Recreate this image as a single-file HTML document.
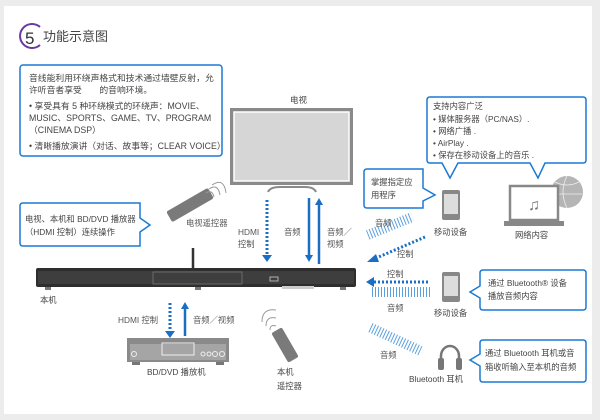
<!DOCTYPE html>
<html><head><meta charset="utf-8"><style>
html,body{margin:0;padding:0;background:#ececec;}
svg{display:block;font-family:"Liberation Sans","Noto Sans CJK SC",sans-serif;}
</style></head><body>
<svg width="600" height="420" viewBox="0 0 600 420" xmlns="http://www.w3.org/2000/svg">
<defs>
<pattern id="wv" width="3" height="10" patternUnits="userSpaceOnUse"><rect width="1" height="10" fill="#5aa0e0"/></pattern>
</defs>
<rect x="0" y="0" width="600" height="420" fill="#ececec"/>
<rect x="4" y="6" width="588" height="408" fill="#ffffff"/>

<!-- title -->
<path d="M40,27 A12,12 0 1 0 40,45" fill="none" stroke="#6a3aa0" stroke-width="2"/>
<text x="25" y="44" font-size="17" fill="#333">5</text>
<text x="43" y="41" font-size="13" fill="#444">功能示意图</text>

<!-- box1 -->
<rect x="20" y="65" width="202" height="91" rx="3" fill="#fff" stroke="#1a7ad4" stroke-width="1.5"/>
<g font-size="8.8" fill="#444">
<text x="29" y="81">音线能利用环绕声格式和技术通过墙壁反射，允</text>
<text x="29" y="93">许听音者享受　　的音响环境。</text>
<text x="29" y="109">• 享受具有 5 种环绕模式的环绕声：MOVIE、</text>
<text x="29" y="121">MUSIC、SPORTS、GAME、TV、PROGRAM</text>
<text x="29" y="133">（CINEMA DSP）</text>
<text x="29" y="149">• 清晰播放演讲（对话、故事等；CLEAR VOICE）</text>
</g>

<!-- box2 left -->
<path d="M23,203 H140 V218 L150,225 L140,232 V246 H23 Q20,246 20,243 V206 Q20,203 23,203 Z" fill="#fff" stroke="#1a7ad4" stroke-width="1.5"/>
<text x="25" y="222" font-size="8.3" fill="#444">电视、本机和 BD/DVD 播放器</text>
<text x="25" y="235" font-size="8.3" fill="#444">（HDMI 控制）连续操作</text>

<!-- TV remote -->
<g transform="translate(190,205) rotate(-30)"><rect x="-24" y="-6" width="48" height="12" rx="2" fill="#7a7a7a"/></g>
<path d="M206,193 q6,-4 8,4 M209,189 q9,-6 11,6 M212,185 q12,-8 14,8" fill="none" stroke="#999" stroke-width="1"/>
<text x="186" y="226" font-size="8.3" fill="#555">电视遥控器</text>

<!-- TV -->
<text x="290" y="103" font-size="8.5" fill="#444">电视</text>
<rect x="230" y="108" width="123" height="77" fill="#8a8a8a"/>
<rect x="234" y="112" width="115" height="69" fill="#d6d6d6" stroke="#fff" stroke-width="1.5"/>
<path d="M268,192 Q270,187 280,187 H305 Q314,187 316,192" fill="none" stroke="#8a8a8a" stroke-width="2"/>

<!-- TV arrows -->
<line x1="267" y1="200" x2="267" y2="256" stroke="#1a6fc4" stroke-width="3" stroke-dasharray="2,2"/>
<path d="M262,255 L267,262 L272,255 Z" fill="#1a6fc4"/>
<line x1="309" y1="198" x2="309" y2="256" stroke="#1a6fc4" stroke-width="2.5"/>
<path d="M305,255 L309,262 L313,255 Z" fill="#1a6fc4"/>
<line x1="319" y1="204" x2="319" y2="264" stroke="#1a6fc4" stroke-width="2.5"/>
<path d="M315,205 L319,198 L323,205 Z" fill="#1a6fc4"/>
<text x="238" y="235" font-size="8.3" fill="#555">HDMI</text>
<text x="238" y="247" font-size="8.3" fill="#555">控制</text>
<text x="284" y="235" font-size="8.3" fill="#555">音频</text>
<text x="327" y="235" font-size="8.3" fill="#555">音频／</text>
<text x="327" y="247" font-size="8.3" fill="#555">视频</text>

<!-- soundbar -->
<line x1="193" y1="248" x2="193" y2="270" stroke="#333" stroke-width="2.5"/>
<rect x="36" y="268" width="320" height="19" rx="2" fill="#2e2e2e"/>
<rect x="38" y="271" width="316" height="13" fill="#3e3e3e"/>
<rect x="153" y="272" width="89" height="12" fill="none" stroke="#777" stroke-width="0.8"/>
<rect x="270" y="277" width="8" height="4" fill="none" stroke="#ccc" stroke-width="0.8"/>
<rect x="282" y="286" width="32" height="3" fill="#ccc"/>
<rect x="45" y="287" width="6" height="3" fill="#777"/><rect x="195" y="287" width="6" height="3" fill="#777"/><rect x="340" y="287" width="6" height="3" fill="#777"/>
<text x="40" y="303" font-size="8.3" fill="#444">本机</text>

<!-- BD arrows -->
<line x1="170" y1="303" x2="170" y2="332" stroke="#1a6fc4" stroke-width="3" stroke-dasharray="2,2"/>
<path d="M165,331 L170,338 L175,331 Z" fill="#1a6fc4"/>
<line x1="185" y1="308" x2="185" y2="336" stroke="#1a6fc4" stroke-width="2.5"/>
<path d="M181,309 L185,302 L189,309 Z" fill="#1a6fc4"/>
<text x="118" y="323" font-size="8.3" fill="#555">HDMI 控制</text>
<text x="193" y="323" font-size="8.3" fill="#555">音频／视频</text>

<!-- BD player -->
<rect x="127" y="338" width="102" height="24" fill="#8a8a8a"/>
<rect x="130" y="344" width="96" height="16" fill="#a5a5a5"/>
<rect x="162" y="343" width="32" height="12" fill="none" stroke="#eee" stroke-width="1"/>
<circle cx="134" cy="354" r="2.5" fill="none" stroke="#eee"/>
<circle cx="203" cy="354" r="2" fill="none" stroke="#eee"/><circle cx="209" cy="354" r="2" fill="none" stroke="#eee"/><circle cx="215" cy="354" r="2.5" fill="none" stroke="#eee"/><circle cx="222" cy="354" r="2.5" fill="none" stroke="#eee"/>
<rect x="132" y="362" width="8" height="3" fill="#777"/><rect x="216" y="362" width="8" height="3" fill="#777"/>
<text x="147" y="375" font-size="8.3" fill="#444">BD/DVD 播放机</text>

<!-- local remote -->
<g transform="translate(285,345) rotate(-30)"><rect x="-6" y="-17" width="12" height="34" rx="2" fill="#7a7a7a"/></g>
<path d="M270,330 q0,-6 6,-4 M266,326 q0,-10 10,-8 M262,322 q0,-14 14,-12" fill="none" stroke="#999" stroke-width="1"/>
<text x="277" y="375" font-size="8.3" fill="#444">本机</text>
<text x="277" y="389" font-size="8.3" fill="#444">遥控器</text>

<!-- right top box -->
<path d="M430,97 H583 Q586,97 586,100 V160 Q586,163 583,163 H545 L538,178 L530,163 H458 L450,178 L442,163 H430 Q427,163 427,160 V100 Q427,97 430,97 Z" fill="#fff" stroke="#1a7ad4" stroke-width="1.5"/>
<g font-size="8.3" fill="#444">
<text x="433" y="109">支持内容广泛</text>
<text x="433" y="122">• 媒体服务器（PC/NAS）.</text>
<text x="433" y="134">• 网络广播 .</text>
<text x="433" y="146">• AirPlay .</text>
<text x="433" y="158">• 保存在移动设备上的音乐 .</text>
</g>

<!-- app box -->
<path d="M367,169 H423 V188 L435,195 L423,201 V208 H367 Q364,208 364,205 V172 Q364,169 367,169 Z" fill="#fff" stroke="#1a7ad4" stroke-width="1.5"/>
<text x="371" y="185" font-size="8.3" fill="#444">掌握指定应</text>
<text x="371" y="198" font-size="8.3" fill="#444">用程序</text>

<!-- mobile 1 -->
<rect x="442" y="190" width="18" height="30" rx="2" fill="#888"/>
<rect x="444" y="194" width="14" height="20" fill="#ddd"/>
<text x="434" y="235" font-size="8.3" fill="#444">移动设备</text>

<!-- laptop & globe -->
<circle cx="567" cy="192" r="16" fill="#b5b5b5"/>
<path d="M555,182 q12,6 24,0 M552,194 h30 M567,176 q-8,16 0,32" fill="none" stroke="#eee" stroke-width="0.8"/>
<rect x="510" y="186" width="48" height="34" fill="#fff" stroke="#888" stroke-width="2.5"/>
<rect x="504" y="221" width="60" height="5" fill="#888"/>
<text x="528" y="210" font-size="16" fill="#777">♫</text>
<text x="515" y="238" font-size="8.3" fill="#444">网络内容</text>

<!-- right arrows/waves row 1 -->
<g transform="translate(390,226) rotate(-22)"><rect x="-24" y="-5" width="48" height="10" fill="url(#wv)"/></g>
<text x="375" y="226" font-size="8.3" fill="#555">音频</text>
<line x1="425" y1="237" x2="374" y2="259" stroke="#1a6fc4" stroke-width="3" stroke-dasharray="2,2"/>
<path d="M376,254 L367,262 L379,262 Z" fill="#1a6fc4"/>
<text x="397" y="257" font-size="8.3" fill="#555">控制</text>

<!-- row 2 -->
<text x="387" y="277" font-size="8.3" fill="#555">控制</text>
<line x1="428" y1="282" x2="373" y2="282" stroke="#1a6fc4" stroke-width="3" stroke-dasharray="2,2"/>
<path d="M374,277 L366,282 L374,287 Z" fill="#1a6fc4"/>
<rect x="370" y="287" width="60" height="10" fill="url(#wv)"/>
<text x="387" y="311" font-size="8.3" fill="#555">音频</text>
<rect x="442" y="272" width="18" height="30" rx="2" fill="#888"/>
<rect x="444" y="276" width="14" height="20" fill="#ddd"/>
<text x="434" y="316" font-size="8.3" fill="#444">移动设备</text>
<path d="M483,270 H583 Q586,270 586,273 V307 Q586,310 583,310 H483 Q480,310 480,307 V298 L470,292 L480,286 V273 Q480,270 483,270 Z" fill="#fff" stroke="#1a7ad4" stroke-width="1.5"/>
<text x="488" y="286" font-size="8.3" fill="#444">通过 Bluetooth® 设备</text>
<text x="488" y="299" font-size="8.3" fill="#444">播放音频内容</text>

<!-- row 3 -->
<g transform="translate(395,339) rotate(25)"><rect x="-28" y="-5" width="56" height="10" fill="url(#wv)"/></g>
<text x="380" y="358" font-size="8.3" fill="#555">音频</text>
<path d="M441,364 V356 A9,10 0 0 1 459,356 V364" fill="none" stroke="#777" stroke-width="2.5"/>
<rect x="438" y="358" width="6" height="12" rx="2" fill="#777"/>
<rect x="456" y="358" width="6" height="12" rx="2" fill="#777"/>
<text x="409" y="382" font-size="8.3" fill="#444">Bluetooth 耳机</text>
<path d="M483,340 H583 Q586,340 586,343 V379 Q586,382 583,382 H483 Q480,382 480,379 V366 L470,360 L480,354 V343 Q480,340 483,340 Z" fill="#fff" stroke="#1a7ad4" stroke-width="1.5"/>
<text x="485" y="356" font-size="8.3" fill="#444">通过 Bluetooth 耳机或音</text>
<text x="485" y="370" font-size="8.3" fill="#444">箱收听输入至本机的音频</text>
</svg>
</body></html>
